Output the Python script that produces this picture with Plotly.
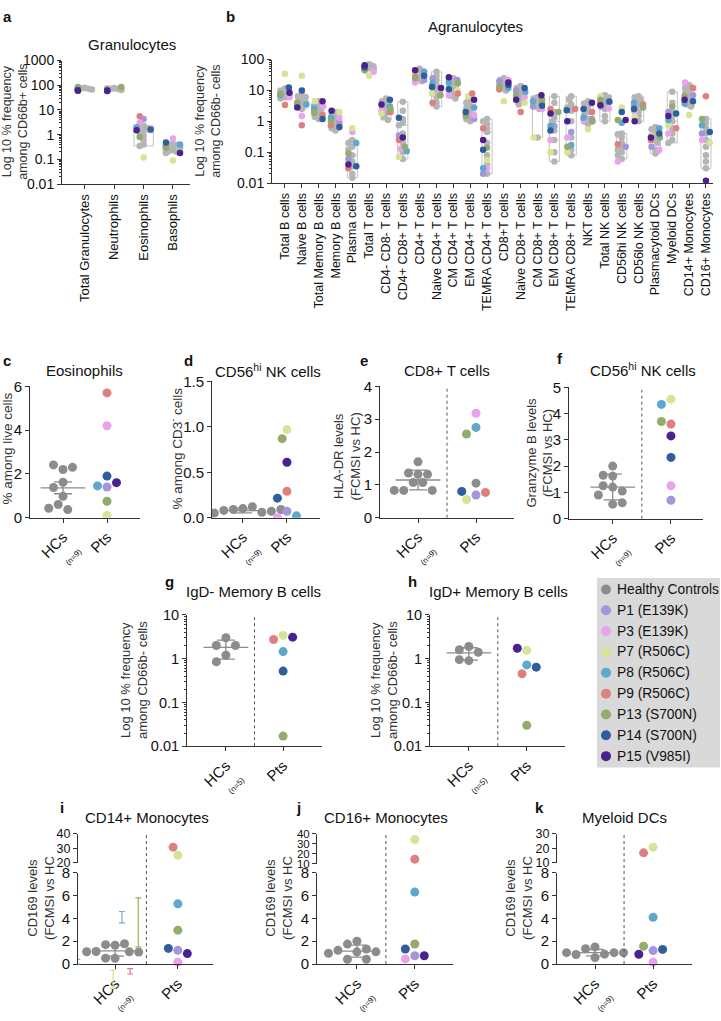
import numpy as np
import plotly.graph_objects as go

W, H = 721, 1021
FONT = "Liberation Sans, Arial, Helvetica, sans-serif"

# ======================= DATA =======================
patient_labels = ["P1 (E139K)", "P3 (E139K)", "P7 (R506C)", "P8 (R506C)",
                  "P9 (R506C)", "P13 (S700N)", "P14 (S700N)", "P15 (V985I)"]
legend_labels = ["Healthy Controls"] + patient_labels

# panel a : granulocytes (log % among CD66b+)
gran_categories = ["Total Granulocytes", "Neutrophils", "Eosinophils", "Basophils"]
gran_hc = [
    [80, 75, 72, 70, 68, 65, 62, 60, 78],
    [78, 73, 70, 68, 65, 63, 60, 58, 75],
    [2.3, 2.0, 1.8, 1.5, 1.2, 0.9, 0.6, 0.4, 0.35],
    [0.42, 0.40, 0.38, 0.35, 0.30, 0.25, 0.22, 0.20, 0.18],
]
# order of patients: P1, P3, P7, P8, P9, P13, P14, P15
gran_pts = [
    [70, 72, 75, 68, 70, 85, 65, 60],
    [68, 70, 73, 66, 68, 85, 63, 58],
    [4.3, 3.0, 0.12, 2.0, 5.5, 0.8, 1.6, 1.5],
    [0.3, 0.7, 0.09, 0.4, 0.35, 0.3, 0.48, 0.18],
]

# panel b : agranulocytes (log % among CD66b-)
agran_categories = [
    "Total B cells", "Naive B cells", "Total Memory B cells", "Memory B cells",
    "Plasma cells", "Total T cells", "CD4- CD8- T cells", "CD4+ CD8+ T cells",
    "CD4+ T cells", "Naive CD4+ T cells", "CM CD4+ T cells", "EM CD4+ T cells",
    "TEMRA CD4+ T cells", "CD8+T cells", "Naive CD8+ T cells", "CM CD8+ T cells",
    "EM CD8+ T cells", "TEMRA CD8+ T cells", "NKT cells", "Total NK cells",
    "CD56hi NK cells", "CD56lo NK cells", "Plasmacytoid DCs", "Myeloid DCs",
    "CD14+ Monocytes", "CD16+ Monocytes"]
agran_hc = [
    [11.5, 9, 8, 7.5, 7, 6.5, 6, 10, 5.5],
    [7.5, 6.5, 6, 5, 4.5, 4, 3.5, 3, 2.5],
    [4.5, 3.5, 3, 2.6, 2.2, 2, 1.6, 1.4, 1.2],
    [2, 1.6, 1.3, 1.1, 0.95, 0.8, 0.7, 0.6, 0.5],
    [0.25, 0.2, 0.15, 0.12, 0.08, 0.05, 0.035, 0.02, 0.015],
    [70, 65, 62, 60, 58, 55, 52, 48, 45],
    [5.5, 4.5, 3.8, 3.2, 2.8, 2.4, 1.8, 1.4, 1.1],
    [4.3, 2.2, 1.2, 0.9, 0.75, 0.4, 0.2, 0.1, 0.06],
    [50, 45, 40, 36, 32, 28, 25, 22, 20],
    [40, 30, 22, 15, 10, 8, 6, 4, 3],
    [25, 22, 18, 15, 13, 11, 9, 7, 5.5],
    [5, 4, 3.2, 2.6, 2.2, 1.8, 1.5, 1.2, 1],
    [1.2, 1.0, 0.8, 0.6, 0.45, 0.2, 0.08, 0.04, 0.02],
    [25, 22, 20, 18, 16, 14, 12, 11, 10],
    [14, 12, 10, 9, 8, 7, 6, 4.5, 3.5],
    [6, 5.5, 5, 4.5, 4, 3.5, 3, 2.5, 0.3],
    [6.5, 4, 2, 1.3, 1, 0.5, 0.25, 0.1, 0.05],
    [6.5, 5, 3.5, 2.8, 2.2, 1, 0.3, 0.12, 0.08],
    [4.5, 3.8, 3, 2.5, 2, 1.6, 1.2, 1, 0.8],
    [7, 6.5, 6, 5, 4.5, 3.5, 2.5, 1.5, 1],
    [0.4, 0.38, 0.3, 0.2, 0.15, 0.12, 0.1, 0.08, 0.06],
    [6.5, 6, 5, 4, 3.5, 3, 2, 1.5, 1],
    [0.65, 0.55, 0.45, 0.35, 0.3, 0.25, 0.2, 0.12, 0.09],
    [9, 4, 2, 1.5, 1, 0.6, 0.4, 0.25, 0.2],
    [15, 12, 10, 8, 6.5, 5.5, 4.5, 3.5, 3],
    [1.2, 0.9, 0.6, 0.4, 0.25, 0.15, 0.08, 0.05, 0.03],
]
agran_pts = [
    [8, 6, 35, 7, 3.4, 7.5, 12.5, 8.5],
    [3.5, 1.5, 30, 3.5, 0.75, 4, 10, 2.8],
    [3.2, 3, 4.5, 2.5, 1.6, 1.9, 1.2, 4.5],
    [0.9, 1.3, 2, 1.3, 0.75, 1, 0.65, 2.2],
    [0.06, 0.45, 0.6, 0.2, 0.03, 0.09, 0.035, 0.04],
    [50, 40, 30, 60, 50, 45, 55, 65],
    [2, 2.2, 1.8, 3, 2, 2.5, 5, 3.5],
    [0.35, 0.13, 0.07, 0.11, 0.25, 0.15, 1.3, 0.3],
    [22, 18, 35, 40, 28, 25, 30, 45],
    [25, 10, 8, 17, 4, 7, 13, 12],
    [22, 7, 10, 18, 8, 17, 11, 27],
    [1.2, 1.6, 6.5, 2.8, 8, 1.5, 2, 5],
    [0.02, 0.03, 0.055, 0.03, 0.6, 0.14, 0.12, 0.25],
    [20, 22, 4.5, 12, 11, 14, 15, 18],
    [10, 6, 4, 9, 2, 7, 12, 5],
    [3, 2.5, 0.3, 4.5, 3.8, 5, 3.2, 7],
    [0.7, 0.25, 0.1, 0.7, 2.5, 2, 0.5, 1.8],
    [0.45, 0.3, 0.1, 0.17, 2.5, 0.15, 2.3, 1],
    [1.2, 1.1, 0.55, 1.3, 2, 1, 2.5, 4],
    [3, 2.6, 6.5, 4.5, 4, 5, 4.3, 3.3],
    [0.15, 0.05, 2.8, 0.9, 0.18, 1.1, 2, 1.1],
    [3, 2, 1.4, 4, 3.5, 2.8, 2.5, 1],
    [0.15, 0.12, 0.35, 0.6, 0.25, 0.3, 0.4, 0.3],
    [2, 0.4, 0.75, 1.1, 0.6, 3, 1.8, 1.5],
    [7, 18, 1.6, 3.8, 12, 6.5, 4.5, 5],
    [0.4, 0.25, 0.2, 0.75, 6.5, 1.2, 0.45, 0.012],
]

# panel c : eosinophils % among live cells
eos_hc = [2.2, 2.41, 2.3, 1.62, 1.38, 0.98, 0.6, 0.37, 0.43]
eos_pts = [1.4, 4.2, 0.1, 1.45, 5.7, 0.75, 1.9, 1.6]
# panel d : CD56hi NK % among CD3- cells
nk_hc = [0.1, 0.09, 0.12, 0.08, 0.06, 0.05, 0.07, 0.04, 0.09]
nk_pts = [0.07, 0.0, 0.97, 0.02, 0.29, 0.87, 0.215, 0.61]
# panel e : CD8+ T cells HLA-DR levels
hladr_hc = [1.7, 1.32, 1.36, 1.32, 1.07, 1.07, 0.83, 0.83, 0.83]
hladr_pts = [0.69, 3.18, 0.55, 2.75, 0.77, 2.55, 0.8, None]
hladr_pts_unassigned = [1.05]
# panel f : CD56hi NK granzyme B levels
gzmb_hc = [2.0, 1.62, 1.65, 1.2, 1.25, 1.05, 0.9, 0.55, 0.6]
gzmb_pts = [0.7, 1.25, 4.55, 4.35, 3.6, 3.7, 2.33, 3.15]
# panel g : IgD- memory B cells
igdneg_hc = [3.0, 2.0, 2.0, 1.2, 0.85]
igdneg_pts = [None, None, 3.4, 1.45, 2.75, 0.017, 0.52, 3.1]
# panel h : IgD+ memory B cells
igdpos_hc = [1.9, 1.6, 1.4, 0.9, 0.95]
igdpos_pts = [None, None, 1.55, 0.72, 0.45, 0.03, 0.64, 1.73]
# panel i : CD14+ monocytes CD169 levels
cd14_hc = [1.65, 1.7, 1.78, 1.1, 1.07, 1.05, 1.08, 0.5, 0.52]
cd14_pts = [1.2, 0.17, 25.2, 5.27, 30.8, 2.97, 1.37, 0.92]
cd14_stray_lo = [3.6, 1.5, 0.0, -0.87, -2.1]
cd14_stray_hi = [4.6, 5.8, 0.42, -0.4, -0.5]
# panel j : CD16+ monocytes CD169 levels
cd16_hc = [2.0, 1.75, 1.32, 1.07, 1.2, 1.07, 0.42, 0.42, 0.95]
cd16_pts = [0.73, 0.45, 34.3, 6.3, 14.7, 1.76, 1.32, 0.73]
# panel k : myeloid DCs CD169 levels
mdc_hc = [1.5, 1.34, 0.87, 0.84, 1.0, 1.0, 1.0, 0.56, 0.84]
mdc_pts = [1.18, 0.17, 20.8, 4.1, 16.9, 1.57, 1.28, 0.86]

# ======================= STYLE =======================
pat_colors = ["#a596dc", "#e8a3ec", "#d5e495", "#5ea7cd", "#df8080", "#93ab6c", "#2f5d9e", "#4b2190"]
HC_DARK = "#8c8c8c"
HC_LIGHT = "#b5b5b5"
AX = "#333333"
stray_colors = ["#6fb0d8", "#aaa95c", "#9a9a9a", "#e07a90", "#cfe08c"]
stray_xoff = [0.11, 0.37, -0.6, 0.24, -0.03]

traces, shapes, annotations = [], [], []
layout_axes = {}


def axname(i):
    return "" if i == 1 else str(i)


def xdom(l, r):
    return [l / W, r / W]


def ydom(t, b):
    return [1 - b / H, 1 - t / H]


def base_axis(**kw):
    d = dict(showgrid=False, zeroline=False, showline=True, linecolor=AX, linewidth=1,
             ticks="outside", ticklen=4, tickwidth=1, tickcolor=AX,
             tickfont=dict(family=FONT, size=13.5, color="#111"), fixedrange=True)
    d.update(kw)
    return d


def ann(text, xpx, ypx, size, angle=0, color="#111", xanchor="center", yanchor="middle"):
    annotations.append(dict(text=text, x=xpx / W, y=1 - ypx / H, xref="paper", yref="paper",
                            showarrow=False, textangle=angle, xanchor=xanchor, yanchor=yanchor,
                            font=dict(family=FONT, size=size, color=color)))


def sc(xa, ya, **kw):
    return go.Scatter(xaxis=xa, yaxis=ya, hoverinfo="skip", showlegend=False, **kw)


def swarm(vals, to_px, unit_px, diam, maxoff=None, step=0.5):
    placed, out = [], []
    for v in vals:
        if v is None:
            out.append(None)
            continue
        y = to_px(v)
        chosen, k = None, 0
        while chosen is None:
            cands = [0.0] if k == 0 else [-k * diam * step, k * diam * step]
            for c in cands:
                if all((c - px) ** 2 + (y - py) ** 2 >= (diam * 0.999) ** 2 for px, py in placed):
                    chosen = c
                    break
            k += 1
            if k > 80:
                chosen = 0.0
        if maxoff is not None:
            chosen = max(-maxoff, min(maxoff, chosen))
        placed.append((chosen, y))
        out.append(chosen / unit_px)
    return out


def minor_log(lo, hi):
    return [k * 10.0 ** e for e in range(lo, hi) for k in range(2, 10)]


# ---------------- category panels (a, b) ----------------
def cat_panel(ax, cats, hc_list, pt_list, unit_px, dec_px, msize, box_w, maxoff):
    s = axname(ax)
    xa, ya = "x" + s, "y" + s
    xh, yh, xp, yp, cp = [], [], [], [], []
    mins, meds, maxs = [], [], []
    for ci in range(len(cats)):
        hc, pv = hc_list[ci], pt_list[ci]
        offs = swarm(hc + pv, lambda v: np.log10(v) * dec_px, unit_px, msize * 0.6, maxoff)
        for j, v in enumerate(hc):
            xh.append(ci + offs[j]); yh.append(v)
        for j, v in enumerate(pv):
            if v is None:
                continue
            xp.append(ci + offs[len(hc) + j]); yp.append(v); cp.append(pat_colors[j])
        mins.append(min(hc)); meds.append(float(np.median(hc))); maxs.append(max(hc))
    traces.append(go.Box(x=list(range(len(cats))), q1=mins, median=meds, q3=maxs,
                         lowerfence=mins, upperfence=maxs, width=box_w, xaxis=xa, yaxis=ya,
                         fillcolor="rgba(255,255,255,0)", line=dict(color="#c4c4c4", width=1),
                         boxpoints=False, hoverinfo="skip", showlegend=False, whiskerwidth=0))
    traces.append(sc(xa, ya, x=xh, y=yh, mode="markers",
                     marker=dict(color=HC_LIGHT, size=msize, line=dict(width=0))))
    traces.append(sc(xa, ya, x=xp, y=yp, mode="markers",
                     marker=dict(color=cp, size=msize, line=dict(width=0))))


cat_panel(1, gran_categories, gran_hc, gran_pts, 29.3, 25.4, 6.5, 0.66, 7)
cat_panel(2, agran_categories, agran_hc, agran_pts, 16.84, 31.75, 6.5, 0.6, 4.5)

log_tick_vals = [0.01, 0.1, 1, 10, 100, 1000]
log_tick_text = ["0.01", "0.1", "1", "10", "100", "1000"]

layout_axes["xaxis"] = base_axis(domain=xdom(62, 190), anchor="y", range=[-0.78, 3.58],
                                 tickvals=list(range(4)), ticktext=gran_categories, tickangle=-90,
                                 tickfont=dict(family=FONT, size=13, color="#111"))
layout_axes["yaxis"] = base_axis(domain=ydom(53, 180), anchor="x", type="log", range=[-2, 3],
                                 tickvals=log_tick_vals, ticktext=log_tick_text,
                                 tickfont=dict(family=FONT, size=14, color="#111"),
                                 minor=dict(tickmode="array", tickvals=minor_log(-2, 3), ticks="outside",
                                            ticklen=2, tickcolor=AX))
layout_axes["xaxis2"] = base_axis(domain=xdom(272, 713), anchor="y2", range=[-0.77, 25.42],
                                  tickvals=list(range(26)), ticktext=agran_categories, tickangle=-90,
                                  tickfont=dict(family=FONT, size=12.5, color="#111"))
layout_axes["yaxis2"] = base_axis(domain=ydom(52, 179), anchor="x2", type="log", range=[-2, 2],
                                  tickvals=log_tick_vals[:5], ticktext=log_tick_text[:5],
                                  tickfont=dict(family=FONT, size=14, color="#111"),
                                  minor=dict(tickmode="array", tickvals=minor_log(-2, 2), ticks="outside",
                                             ticklen=2, tickcolor=AX))

ann("Granulocytes", 132, 37, 15)
ann("Agranulocytes", 475, 18, 15)
ann("<b>a</b>", 1, 8, 15, xanchor="left")
ann("<b>b</b>", 224, 8, 15, xanchor="left")
ann("Log 10 % frequency<br>among CD66b+ cells", 15, 116, 12.5, angle=-90, color="#333")
ann("Log 10 % frequency<br>among CD66b- cells", 208, 116, 12.5, angle=-90, color="#333")

# stray error bars visible in panel i (some hang below the x axis -> drawn on an
# invisible axis that continues the 0-8 scale below zero); added first so that
# panel i's own subplot is drawn above it
layout_axes["xaxis16"] = dict(domain=xdom(78, 213), anchor="y16", range=[-0.59, 1.56],
                              visible=False, fixedrange=True)
layout_axes["yaxis16"] = dict(domain=ydom(888, 1012), anchor="x16", range=[-30 / 11.75, 8],
                              visible=False, fixedrange=True)
for lo, hi, col, xo in zip(cd14_stray_lo, cd14_stray_hi, stray_colors, stray_xoff):
    traces.append(sc("x16", "y16", x=[xo], y=[(lo + hi) / 2], mode="markers", cliponaxis=False,
                     marker=dict(size=1, color="rgba(0,0,0,0)"),
                     error_y=dict(type="data", array=[(hi - lo) / 2], visible=True, width=3,
                                  thickness=1.2, color=col)))


# ---------------- HC vs patient panels (c - k) ----------------
def hc_pt_panel(cfg):
    s = axname(cfg["ax"])
    xa, ya = "x" + s, "y" + s
    top = cfg.get("top")
    to_px = cfg["to_px"]
    hc, pts = cfg["hc"], cfg["pts"]
    extra = cfg.get("extra", [])
    hoff = swarm(hc, to_px, cfg["unit"], 9.5)
    pvals = [v for v in pts] + extra
    poff = swarm(pvals, to_px, cfg["unit"], 9.5)
    pcols = pat_colors + [HC_DARK] * len(extra)

    def put(xs, ys, cols):
        if top is None:
            traces.append(sc(xa, ya, x=xs, y=ys, mode="markers",
                             marker=dict(color=cols, size=9, line=dict(width=0))))
        else:
            yt, thr = top
            lo = [(a, b, c) for a, b, c in zip(xs, ys, cols) if b <= thr]
            hi = [(a, b, c) for a, b, c in zip(xs, ys, cols) if b > thr]
            for grp, yy in ((lo, ya), (hi, yt)):
                if grp:
                    traces.append(sc(xa, yy, x=[g[0] for g in grp], y=[g[1] for g in grp],
                                     mode="markers", cliponaxis=False,
                                     marker=dict(color=[g[2] for g in grp], size=9, line=dict(width=0))))

    put([0 + o for o in hoff], hc, [HC_DARK] * len(hc))
    m = float(np.mean(hc))
    sd = float(np.std(hc, ddof=1))
    err = sd / np.sqrt(len(hc)) if cfg["err"] == "sem" else sd
    traces.append(sc(xa, ya, x=[0], y=[m], mode="markers",
                     marker=dict(symbol="line-ew", size=32, color=HC_DARK, line=dict(width=1.3, color=HC_DARK)),
                     error_y=dict(type="data", array=[err], visible=True, width=9, thickness=1.3, color=HC_DARK)))
    xs, ys, cs = [], [], []
    for o, v, c in zip(poff, pvals, pcols):
        if v is None:
            continue
        xs.append(1 + o); ys.append(v); cs.append(c)
    put(xs, ys, cs)

    if cfg["sep"]:
        y0 = 1 - cfg["ypx"][1] / H
        y1 = 1 - (cfg["toppx"][0] if top else cfg["ypx"][0]) / H
        shapes.append(dict(type="line", xref=xa, yref="paper", x0=0.5, x1=0.5, y0=y0, y1=y1,
                           line=dict(color="#555", width=1, dash="dot")))

    n_txt = "HCs<br><span style='font-size:8px'>(n=%d)</span>" % len(hc)
    layout_axes["xaxis" + s] = base_axis(domain=xdom(*cfg["xpx"]), anchor=ya, range=list(cfg["xr"]),
                                         tickvals=[0, 1], ticktext=[n_txt, "Pts"], tickangle=-45,
                                         tickfont=dict(family=FONT, size=15, color="#111"))
    yk = dict(domain=ydom(*cfg["ypx"]), anchor=xa, range=list(cfg["yr"]), tickvals=cfg["yt"],
              ticktext=cfg["ytt"], tickfont=dict(family=FONT, size=cfg.get("yfs", 15), color="#111"))
    if cfg.get("log"):
        yk.update(type="log", minor=dict(tickmode="array", tickvals=minor_log(-2, 1), ticks="outside",
                                         ticklen=2, tickcolor=AX))
    layout_axes["yaxis" + s] = base_axis(**yk)
    if top is not None:
        yt = top[0]
        layout_axes["yaxis" + yt[1:]] = base_axis(domain=ydom(*cfg["toppx"]), anchor=xa,
                                                  range=list(cfg["topr"]), tickvals=cfg["topt"],
                                                  ticktext=[str(v) for v in cfg["topt"]],
                                                  tickfont=dict(family=FONT, size=cfg.get("tfs", 12.5),
                                                                color="#111"))
    ann(cfg["title"], cfg["tx"], cfg["ty"], 15)
    ann("<b>%s</b>" % cfg["letter"], cfg["lx"], cfg["ly"], 15, xanchor="left")
    ann(cfg["ytitle"], cfg["ytx"], cfg["yty"], cfg.get("ytfs", 13), angle=-90, color="#333")


def lin(scale):
    return lambda v: v * scale


def lg(scale):
    return lambda v: np.log10(v) * scale


def broken(sb, lo_t, st):
    return lambda v: v * sb if v <= 8 else 8 * sb + 8 + (v - lo_t) * st


lin_ticks = lambda vals: [str(v) for v in vals]

panels = [
    dict(ax=3, letter="c", title="Eosinophils", xpx=(30, 140), ypx=(388, 523), xr=(-0.75, 1.75), yr=(0, 6),
         yt=[0, 2, 4, 6], ytt=lin_ticks([0, 2, 4, 6]), hc=eos_hc, pts=eos_pts, err="sem", sep=False,
         to_px=lin(22.5), unit=44, tx=84, ty=372, lx=1, ly=361, ytitle="% among live cells", ytx=8, yty=452,
         ytfs=13.5),
    dict(ax=4, letter="d", title="CD56<sup>hi</sup> NK cells", xpx=(212, 320), ypx=(383, 523),
         xr=(-0.7, 1.75), yr=(0, 1.5), yt=[0, 0.5, 1.0, 1.5], ytt=["0.0", "0.5", "1.0", "1.5"],
         hc=nk_hc, pts=nk_pts, err="sd", sep=False, to_px=lin(93.3), unit=44, tx=268, ty=372,
         lx=182, ly=361, ytitle="% among CD3<sup>-</sup> cells", ytx=176, yty=452, ytfs=13.5),
    dict(ax=5, letter="e", title="CD8+ T cells", xpx=(380, 514), ypx=(388, 523), xr=(-0.655, 1.655),
         yr=(0, 4), yt=[0, 1, 2, 3, 4], ytt=lin_ticks([0, 1, 2, 3, 4]), hc=hladr_hc, pts=hladr_pts,
         extra=hladr_pts_unassigned, err="sd", sep=True, to_px=lin(33.75), unit=58, tx=447, ty=372,
         lx=358, ly=361, ytitle="HLA-DR levels<br>(FCMSI vs HC)", ytx=347, yty=460),
    dict(ax=6, letter="f", title="CD56<sup>hi</sup> NK cells", xpx=(569, 703), ypx=(389, 524),
         xr=(-0.75, 1.55), yr=(0, 5), yt=[0, 1, 2, 3, 4, 5], ytt=lin_ticks([0, 1, 2, 3, 4, 5]),
         hc=gzmb_hc, pts=gzmb_pts, err="sd", sep=True, to_px=lin(26.9), unit=58, tx=643, ty=371,
         lx=555, ly=359, ytitle="Granzyme B levels<br>(FCMSI vs HC)", ytx=540, yty=456),
    dict(ax=7, letter="g", title="IgD- Memory B cells", xpx=(187, 322), ypx=(623, 758), xr=(-0.68, 1.68),
         yr=(-2, 1), yt=[0.01, 0.1, 1, 10], ytt=["0.01", "0.1", "1", "10"], log=True, yfs=14.5,
         hc=igdneg_hc, pts=igdneg_pts, err="sd", sep=True, to_px=lg(45), unit=57, tx=253, ty=599,
         lx=163, ly=589, ytitle="Log 10 % frequency<br>among CD66b- cells", ytx=134, yty=690),
    dict(ax=8, letter="h", title="IgD+ Memory B cells", xpx=(430, 565), ypx=(623, 758), xr=(-0.67, 1.66),
         yr=(-2, 1), yt=[0.01, 0.1, 1, 10], ytt=["0.01", "0.1", "1", "10"], log=True, yfs=14.5,
         hc=igdpos_hc, pts=igdpos_pts, err="sd", sep=True, to_px=lg(45), unit=58, tx=498, ty=599,
         lx=406, ly=589, ytitle="Log 10 % frequency<br>among CD66b- cells", ytx=384, yty=690),
    dict(ax=9, letter="i", title="CD14+ Monocytes", xpx=(78, 213), ypx=(888, 982), xr=(-0.59, 1.56),
         yr=(0, 8), yt=[0, 2, 4, 6, 8], ytt=lin_ticks([0, 2, 4, 6, 8]), top=("y10", 8), toppx=(848, 878),
         topr=(20, 40), topt=[20, 30, 40], hc=cd14_hc, pts=cd14_pts, err="sd", sep=True,
         to_px=broken(11.9, 20, 1.55), unit=63, tx=147, ty=831, lx=58, ly=821,
         ytitle="CD169 levels<br>(FCMSI vs HC", ytx=41, yty=914),
    dict(ax=11, letter="j", title="CD16+ Monocytes", xpx=(317, 453), ypx=(888, 982), xr=(-0.69, 1.66),
         yr=(0, 8), yt=[0, 2, 4, 6, 8], ytt=lin_ticks([0, 2, 4, 6, 8]), top=("y12", 8), toppx=(848, 879),
         topr=(10, 40), topt=[10, 20, 30, 40], tfs=11.5, hc=cd16_hc, pts=cd16_pts, err="sd", sep=True,
         to_px=broken(11.9, 10, 1.07), unit=58, tx=386, ty=831, lx=294, ly=821,
         ytitle="CD169 levels<br>(FCMSI vs HC", ytx=279, yty=914),
    dict(ax=13, letter="k", title="Myeloid DCs", xpx=(557, 692), ypx=(888, 982), xr=(-0.655, 1.67),
         yr=(0, 8), yt=[0, 2, 4, 6, 8], ytt=lin_ticks([0, 2, 4, 6, 8]), top=("y14", 8), toppx=(848, 878),
         topr=(10, 30), topt=[10, 20, 30], hc=mdc_hc, pts=mdc_pts, err="sd", sep=True,
         to_px=broken(11.9, 10, 1.55), unit=58, tx=624, ty=831, lx=533, ly=821,
         ytitle="CD169 levels<br>(FCMSI vs HC", ytx=519, yty=914),
]
for cfg in panels:
    hc_pt_panel(cfg)

# ---------------- legend (panel) ----------------
shapes.append(dict(type="rect", xref="paper", yref="paper", x0=597 / W, x1=720 / W,
                   y0=1 - 780 / H, y1=1 - 585 / H, fillcolor="#d9d9d9", line=dict(width=0), layer="below"))
layout_axes["xaxis15"] = dict(domain=xdom(597, 720), anchor="y15", range=[0, 123], visible=False, fixedrange=True)
layout_axes["yaxis15"] = dict(domain=ydom(585, 780), anchor="x15", range=[8.55, -0.55], visible=False,
                              fixedrange=True)
traces.append(sc("x15", "y15", x=[9] * len(legend_labels), y=list(range(len(legend_labels))),
                 mode="markers", marker=dict(color=[HC_DARK] + pat_colors, size=10, line=dict(width=0))))
leg_row = 195 / 9.1
for i, lab in enumerate(legend_labels):
    ann(lab, 615, 585 + (i + 0.55) * leg_row, 13.8, xanchor="left")

fig = go.Figure(data=traces)
fig.update_layout(width=W, height=H, margin=dict(l=0, r=0, t=0, b=0), paper_bgcolor="white",
                  plot_bgcolor="rgba(0,0,0,0)", showlegend=False, shapes=shapes, annotations=annotations,
                  hovermode=False, dragmode=False,
                  font=dict(family=FONT, size=12, color="#111"), **layout_axes)
fig.write_html("out.html",
               config={"displayModeBar": False, "responsive": False, "staticPlot": True},
               post_script="document.body.style.margin='0px';document.body.style.padding='0px';"
                           "document.documentElement.style.overflow='hidden';")
